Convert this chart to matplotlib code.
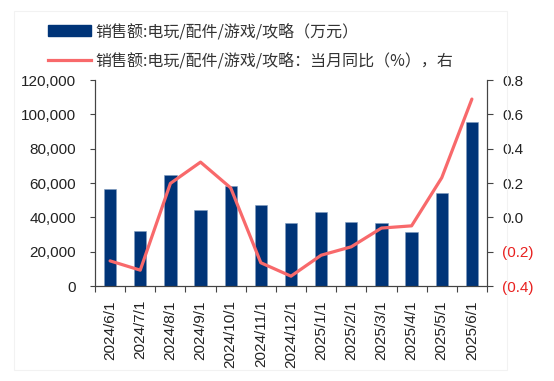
import matplotlib

matplotlib.use("Agg")

import matplotlib.pyplot as plt
from matplotlib.lines import Line2D
from matplotlib.patches import Patch, Rectangle
from matplotlib.ticker import FixedLocator, FuncFormatter

plt.rcParams["font.family"] = ["Liberation Sans", "Noto Sans CJK SC", "DejaVu Sans"]

months = [
    "2024/6/1", "2024/7/1", "2024/8/1", "2024/9/1", "2024/10/1", "2024/11/1",
    "2024/12/1", "2025/1/1", "2025/2/1", "2025/3/1", "2025/4/1", "2025/5/1",
    "2025/6/1",
]
sales = [56700, 32000, 64500, 44400, 58200, 47400, 36700, 42900, 37300, 36900, 31400, 54000, 95700]
yoy = [-0.253, -0.307, 0.198, 0.322, 0.172, -0.264, -0.342, -0.220, -0.171, -0.062, -0.049, 0.231, 0.689]

bar_label = "销售额:电玩/配件/游戏/攻略（万元）"
line_label = "销售额:电玩/配件/游戏/攻略：当月同比（%），右"

BAR_COLOR = "#003478"
LINE_COLOR = "#F8696B"
NEG_COLOR = "#E8201F"
TEXT_COLOR = "#222222"
LEGEND_TEXT = "#333333"
TICK_SIZE = 11

fig = plt.figure(figsize=(5.54, 3.81), dpi=100)
fig.patches.append(
    Rectangle((0.025, 0.03), 0.89, 0.94, transform=fig.transFigure,
              fill=False, edgecolor="#f2f2f2", linewidth=0.8)
)
ax = fig.add_axes([0.1715, 0.249, 0.7075, 0.541])
ax2 = ax.twinx()

x = list(range(len(months)))
ax.bar(x, sales, width=0.41, color=BAR_COLOR, edgecolor="#7f9cc0", linewidth=0.4, zorder=2)
ax2.plot(x, yoy, color=LINE_COLOR, linewidth=2.3, solid_capstyle="round", zorder=3)

ax.set_xlim(-0.5, len(months) - 0.5)
ax.set_ylim(0, 120000)
ax2.set_ylim(-0.4, 0.8)

for a in (ax, ax2):
    a.spines["top"].set_visible(False)
    for s in a.spines.values():
        s.set_color("#444444")
        s.set_linewidth(0.8)

ax.set_yticks(range(0, 120001, 20000))
ax.yaxis.set_major_formatter(FuncFormatter(lambda v, p: f"{int(v):,}"))
ax.tick_params(axis="y", direction="out", length=3.6, width=0.8, colors="#444444",
               labelsize=TICK_SIZE, labelcolor=TEXT_COLOR, pad=10)

ticks2 = [-0.4, -0.2, 0.0, 0.2, 0.4, 0.6, 0.8]
ax2.yaxis.set_major_locator(FixedLocator(ticks2))
ax2.yaxis.set_major_formatter(
    FuncFormatter(lambda v, p: f"({abs(v):.1f})" if v < -1e-9 else f"{v:.1f}")
)
ax2.tick_params(axis="y", direction="out", length=4.3, width=0.8, colors="#444444",
                labelsize=TICK_SIZE, labelcolor=TEXT_COLOR, pad=6.5)
for val, lab in zip(ticks2, ax2.get_yticklabels()):
    if val < 0:
        lab.set_color(NEG_COLOR)

# category boundaries carry tick marks, month labels sit under the bars
ax.set_xticks([i - 0.5 for i in range(len(months) + 1)])
ax.set_xticklabels([])
ax.set_xticks(x, minor=True)
ax.set_xticklabels(months, minor=True, rotation=90)
ax.tick_params(axis="x", which="major", direction="out", length=4, width=0.8, colors="#444444")
ax.tick_params(axis="x", which="minor", length=0, labelsize=TICK_SIZE, labelcolor=TEXT_COLOR, pad=10)

handles = [
    Patch(facecolor=BAR_COLOR, edgecolor=BAR_COLOR),
    Line2D([0], [0], color=LINE_COLOR, linewidth=2.3),
]
leg = fig.legend(
    handles, [bar_label, line_label],
    loc="upper left", bbox_to_anchor=(0.086, 0.939),
    frameon=False, handlelength=2.7, handleheight=0.62,
    handletextpad=0.3, labelspacing=0.75, borderpad=0.0, borderaxespad=0.0,
    prop={"family": ["Noto Sans CJK SC", "DejaVu Sans"], "size": 11.5},
)
for t in leg.get_texts():
    t.set_color(LEGEND_TEXT)

fig.savefig("out.png", dpi=100)
